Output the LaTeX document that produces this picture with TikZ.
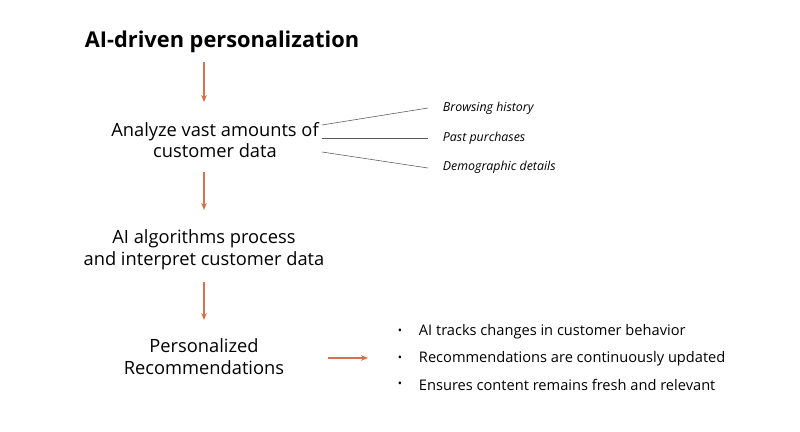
\documentclass[tikz,border=0pt]{standalone}
\usepackage{fontspec}
\setmainfont{Open Sans}
\usetikzlibrary{arrows.meta,positioning}
\definecolor{rust}{rgb}{0.82, 0.45, 0.30}
\definecolor{linegray}{rgb}{0.35, 0.35, 0.35}

\begin{document}
\begin{tikzpicture}[x=0.025cm,y=-0.025cm,
  step text/.style={align=center,font=\fontsize{13}{15.5}\selectfont},
  src text/.style={anchor=west,font=\fontsize{8.8}{10}\selectfont\itshape},
  flow/.style={rust,-{Stealth[length=5pt,width=4pt]},thick},
  link/.style={linegray,thin}]
\useasboundingbox (0,0) rectangle (800,432);
\node (title) [font=\fontsize{15.5}{18}\selectfont\bfseries] at (222,42) {AI-driven personalization};
\node (analyze) [step text] at (215,140) {Analyze vast amounts of\\customer data};
\node (process) [step text] at (204,250) {AI algorithms process\\and interpret customer data};
\node (reco) [step text] at (204,357) {Personalized\\Recommendations};
\draw[flow] (204,62) -- (204,102);
\draw[flow] (204,172) -- (204,210);
\draw[flow] (204,282) -- (204,320);
% data sources
\node (browse) [src text] at (438,108) {Browsing history};
\node (purchase) [src text] at (438,138) {Past purchases};
\node (demo) [src text] at (438,167) {Demographic details};
\coordinate (d1) at (322,125);
\coordinate (d2) at (322,138);
\coordinate (d3) at (322,152);
\draw[link] (d1) -- (428,108);
\draw[link] (d2) -- (428,138);
\draw[link] (d3) -- (428,168);
% outcome list
\coordinate (r1) at (328,358);
\coordinate (r2) at (368,358);
\draw[flow] (r1) -- (r2);
\foreach \y/\t in {332/AI tracks changes in customer behavior,
                   359/Recommendations are continuously updated,
                   385/Ensures content remains fresh and relevant}{
  \node[font=\fontsize{8}{10}\selectfont] at (400,\y) {•};
  \node[anchor=west,font=\fontsize{10.4}{12}\selectfont] at (414,\y) {\t};
}
\end{tikzpicture}
\end{document}
